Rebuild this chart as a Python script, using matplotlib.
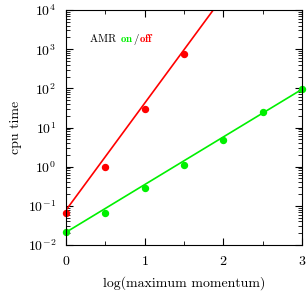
import numpy as np
import matplotlib
matplotlib.use('Agg')
import matplotlib.pyplot as plt
from matplotlib.ticker import LogLocator, MultipleLocator, NullFormatter

## data
# x : log(maximum momentum), y : cpu time
x_off = [0, 0.5, 1, 1.5]
cpu_off = [0.065, 0.98, 29.7, 740]
x_on = [0, 0.5, 1, 1.5, 2, 2.5, 3]
cpu_on = [0.021, 0.065, 0.28, 1.1, 4.8, 24.5, 94]
# fitted lines : log10(cpu) = a + b*x
fit_off = (-1.11, 2.73)
fit_on = (-1.675, 1.217)

RED = '#ff0000'
GREEN = '#00f000'

## style
plt.rcParams['font.family'] = 'serif'
plt.rcParams['font.serif'] = ['cmr10']
plt.rcParams['mathtext.fontset'] = 'cm'
plt.rcParams['axes.formatter.use_mathtext'] = True
plt.rcParams['axes.unicode_minus'] = False

fig = plt.figure(figsize=(3.07, 2.94), dpi=100)
ax = fig.add_axes([66/307, 1-245/294, 236/307, 235/294])

xx = np.linspace(0, 3, 200)
ax.plot(xx, 10**(fit_off[0] + fit_off[1]*xx), color=RED, lw=1.2)
ax.plot(xx, 10**(fit_on[0] + fit_on[1]*xx), color=GREEN, lw=1.2)
ax.plot(x_off, cpu_off, 'o', color=RED, ms=4.3, clip_on=False)
ax.plot(x_on, cpu_on, 'o', color=GREEN, ms=4.3, clip_on=False)

ax.set_yscale('log')
ax.set_xlim(0, 3)
ax.set_ylim(1e-2, 1e4)
ax.xaxis.set_major_locator(MultipleLocator(1))
ax.xaxis.set_minor_locator(MultipleLocator(0.5))
ax.yaxis.set_major_locator(LogLocator(base=10, numticks=10))
ax.yaxis.set_minor_locator(LogLocator(base=10, subs=np.arange(2, 10), numticks=10))
ax.yaxis.set_minor_formatter(NullFormatter())
ax.tick_params(which='both', direction='in', top=True, right=True, labelsize=10)
ax.tick_params(which='major', length=5, width=0.8, pad=7)
ax.tick_params(which='minor', length=3, width=0.6)

ax.set_xlabel('log(maximum momentum)', fontsize=10, labelpad=6)
ax.set_ylabel('cpu time', fontsize=10, labelpad=4)

# legend text, pieces chained one after the other
pieces = [('AMR ', 'black'), (r'$\mathbf{on}$', GREEN), ('/', 'black'), (r'$\mathbf{off}$', RED)]
fig.canvas.draw()
renderer = fig.canvas.get_renderer()
xpix, ypix = 90, 294 - 42
for s, c in pieces:
    t = fig.text(xpix/307, ypix/294, s, fontsize=7.8, color=c, va='baseline')
    bb = t.get_window_extent(renderer)
    xpix += bb.width

fig.savefig('out.png', dpi=100)
